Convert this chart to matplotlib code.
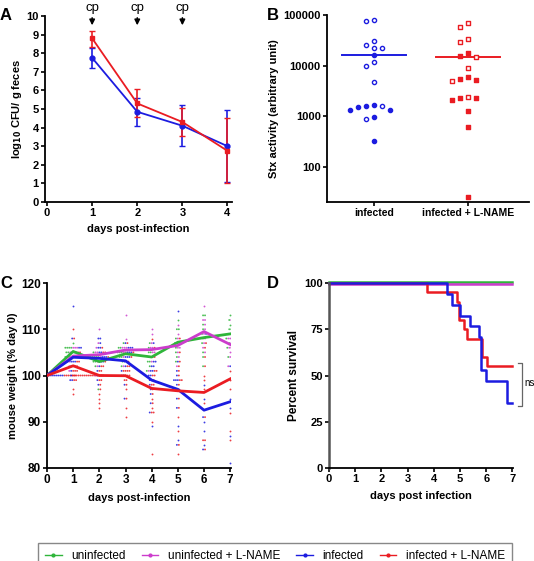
import numpy as np
import matplotlib
matplotlib.use("Agg")
import matplotlib.pyplot as plt
import matplotlib.transforms as mtransforms
from matplotlib.lines import Line2D

plt.rcParams['font.family'] = ['Liberation Sans', 'DejaVu Sans']
plt.rcParams['font.weight'] = 'bold'
plt.rcParams['axes.labelweight'] = 'bold'

GREEN = '#2fb53a'
MAGENTA = '#cc3ccc'
BLUE = '#1c1ce0'
RED = '#ea1c22'

# --- Panel A: fecal shedding -------------------------------------------------
a_days = [1, 2, 3, 4]
a_inf = [7.75, 4.85, 4.1, 3.0]
a_inf_lo = [7.2, 4.1, 3.0, 1.05]
a_inf_hi = [8.3, 5.6, 5.2, 4.95]
a_lname = [8.8, 5.3, 4.3, 2.75]
a_lname_lo = [8.35, 4.55, 3.55, 1.0]
a_lname_hi = [9.2, 6.05, 5.05, 4.5]
cp_days = [1, 2, 3]

# --- Panel B: Stx activity ---------------------------------------------------
b_groups = ['infected', 'infected + L-NAME']
b_inf_open = [77000, 80000, 26000, 31000, 22500, 22500, 12000, 10000, 4700, 1550, 870]
b_inf_filled = [16500, 1500, 1600, 1650, 1300, 1300, 970, 320]
b_lname_open = [68000, 58000, 34000, 29000, 14500, 9000, 5000, 2400]
b_lname_filled = [17500, 15500, 5500, 5200, 5900, 2300, 2100, 2250, 1250, 600, 25]

# --- Panel C: body weight ----------------------------------------------------
c_days = [0, 1, 2, 3, 4, 5, 6, 7]
w_uninf = [
    [100] * 10,
    [103, 104, 104, 105, 105, 106, 106, 107, 106, 106],
    [97, 102, 103, 103, 104, 104, 104, 104, 104, 105],
    [102, 103, 104, 104, 105, 105, 105, 106, 106, 107],
    [101, 102, 103, 103, 104, 104, 105, 105, 106, 107],
    [103, 104, 105, 106, 107, 107, 108, 110, 112, 110],
    [102, 104, 105, 107, 108, 109, 110, 111, 113, 113],
    [104, 106, 107, 108, 109, 110, 110, 111, 112, 113],
]
w_uninf_lname = [
    [100] * 10,
    [101, 102, 103, 104, 104, 105, 105, 106, 106, 106],
    [100, 102, 103, 103, 104, 105, 105, 106, 107, 110],
    [100, 102, 104, 105, 105, 106, 106, 106, 108, 113],
    [101, 103, 104, 105, 105, 106, 106, 107, 109, 110],
    [102, 104, 105, 106, 106, 107, 107, 108, 109, 111],
    [105, 106, 107, 108, 109, 110, 111, 112, 112, 115],
    [102, 104, 105, 106, 106, 107, 108, 108, 109, 112],
]
w_inf = [
    [100] * 17,
    [99, 99, 100, 101, 102, 103, 103, 103, 104, 104, 104, 105, 105, 106, 106, 108, 115],
    [98, 99, 100, 101, 102, 103, 103, 104, 104, 104, 105, 105, 106, 106, 107, 108, 108],
    [95, 98, 100, 101, 102, 103, 103, 104, 104, 104, 105, 105, 105, 106, 106, 106, 107],
    [89, 92, 94, 96, 97, 98, 99, 99, 100, 100, 101, 101, 102, 102, 103, 103, 107],
    [85, 86, 89, 93, 95, 97, 98, 99, 99, 99, 100, 101, 103, 114],
    [84, 85, 88, 90, 91, 95, 98, 109],
    [81, 87, 93, 95, 102, 108],
]
w_inf_lname = [
    [100] * 20,
    [96, 97, 99, 99, 100, 100, 101, 101, 101, 102, 102, 102, 103, 103, 104, 104, 105, 105, 108, 110],
    [93, 94, 95, 96, 97, 98, 99, 99, 100, 100, 100, 101, 101, 102, 102, 103, 104, 105, 106, 105],
    [91, 93, 95, 97, 98, 99, 99, 100, 100, 100, 101, 101, 101, 101, 102, 102, 103, 104, 105, 107],
    [83, 90, 92, 92, 93, 94, 95, 96, 97, 98, 98, 99, 100, 100, 101, 101, 104, 106, 108],
    [83, 85, 88, 91, 93, 95, 97, 98, 99, 99, 100, 101, 102, 103, 105, 108],
    [84, 86, 86, 91, 94, 97, 99, 100, 102, 104, 106, 107],
    [86, 88, 92, 97, 99, 101, 102, 104, 106, 108, 109],
]

# --- Panel D: survival -------------------------------------------------------
d_ctrl_t = [0, 7]
d_ctrl_s = [100, 100]
d_inf_t = [0, 4.52, 4.7, 4.98, 5.38, 5.73, 5.79, 5.98, 6.78, 7]
d_inf_s = [100, 94.1, 88.2, 82.4, 76.5, 70.6, 52.9, 47.1, 35.3, 35.3]
d_lname_t = [0, 3.73, 4.87, 4.96, 5.15, 5.28, 5.85, 6.02, 7]
d_lname_s = [100, 95, 90, 80, 75, 70, 60, 55, 55]

W, H = 534, 561
fig = plt.figure(figsize=(W / 100, H / 100), dpi=100)


def add_ax(l, t, r, b):
    return fig.add_axes([l / W, 1 - b / H, (r - l) / W, (b - t) / H])


def style(ax):
    for s in ['top', 'right']:
        ax.spines[s].set_visible(False)
    for s in ['left', 'bottom']:
        ax.spines[s].set_linewidth(1.3)
    ax.tick_params(labelsize=7.5, width=1.2, length=3, pad=1.5)


def letter(x, y, s):
    fig.text(x / W, 1 - y / H, s, fontsize=12, fontweight='bold', ha='center', va='center')


# A
axA = add_ax(45, 16, 232, 202)
style(axA)
for y, lo, hi, c, m in [(a_inf, a_inf_lo, a_inf_hi, BLUE, 'o'),
                        (a_lname, a_lname_lo, a_lname_hi, RED, 's')]:
    y = np.array(y)
    err = [y - np.array(lo), np.array(hi) - y]
    axA.errorbar(a_days, y, yerr=err, color=c, marker=m, markersize=3.5, lw=1.3,
                 capsize=2.5, elinewidth=1.2, clip_on=False)
axA.set_xlim(-0.045, 4.1)
axA.set_ylim(0, 10)
axA.set_xticks(range(5))
axA.set_yticks(range(11))
axA.tick_params(labelsize=8)
axA.set_xlabel('days post-infection', fontsize=8, labelpad=4)
axA.set_ylabel('log$_{10}$ CFU/ g feces', fontsize=8, labelpad=2)
for d in cp_days:
    axA.annotate('cp', xy=(d, 9.5), xytext=(d, 10.45), ha='center', va='center',
                 fontsize=9.5, fontweight='normal', annotation_clip=False,
                 arrowprops=dict(arrowstyle='-|>', color='k', lw=1.1, mutation_scale=8,
                                 shrinkA=1, shrinkB=0))
letter(6, 15, 'A')

# B
axB = add_ax(327, 15, 529, 202)
style(axB)
axB.set_yscale('log')
axB.set_ylim(20, 100000)
axB.set_xlim(-0.5, 1.65)
axB.set_yticks([100, 1000, 10000, 100000])
axB.set_yticklabels(['100', '1000', '10000', '100000'])
axB.yaxis.set_minor_locator(matplotlib.ticker.NullLocator())
axB.set_xticks([0, 1])
axB.set_xticklabels(b_groups, fontsize=7.5)
axB.tick_params(axis='y', labelsize=8)
axB.set_ylabel('Stx activity (arbitrary unit)', fontsize=8, labelpad=3)


def swarm(vals, step=0.085, px_x=94.0, px_y=50.7, dist=6.0):
    order = np.argsort(vals)[::-1]
    placed = []
    offs = np.zeros(len(vals))
    for i in order:
        ly = np.log10(vals[i])
        for k in [0, -1, 1, -2, 2, -3, 3]:
            x = k * step
            ok = all(np.hypot((x - px) * px_x, (ly - py) * px_y) >= dist for px, py in placed)
            if ok:
                break
        offs[i] = x
        placed.append((x, ly))
    return offs


for xi, op, fi, c, m in [(0, b_inf_open, b_inf_filled, BLUE, 'o'),
                         (1, b_lname_open, b_lname_filled, RED, 's')]:
    vals = np.array(op + fi, dtype=float)
    offs = swarm(vals)
    n_open = len(op)
    axB.scatter(xi + offs[:n_open], vals[:n_open], s=9, marker=m, facecolors='white',
                edgecolors=c, linewidths=1.0, zorder=3)
    axB.scatter(xi + offs[n_open:], vals[n_open:], s=9, marker=m, color=c, zorder=3)
    axB.plot([xi - 0.34, xi + 0.34], [vals.mean()] * 2, color=c, lw=1.4, zorder=2)
letter(273, 15, 'B')

# C
axC = add_ax(47, 283, 231, 468)
style(axC)
groups = [(w_uninf, GREEN), (w_uninf_lname, MAGENTA), (w_inf, BLUE), (w_inf_lname, RED)]
for di, d in enumerate(c_days):
    pts = []
    for wl, c in groups:
        pts += [(v, c) for v in wl[di]]
    for v in sorted(set(p[0] for p in pts)):
        row = [p[1] for p in pts if p[0] == v]
        k = len(row)
        xs = d + (np.arange(k) - (k - 1) / 2) * 0.075
        axC.scatter(xs, [v] * k, s=1.8, c=row, linewidths=0, alpha=0.85, zorder=2)
for wl, c in groups:
    axC.plot(c_days, [np.mean(w) for w in wl], color=c, lw=2, zorder=3)
axC.set_xlim(0, 7.03)
axC.set_ylim(80, 120)
axC.set_xticks(range(8))
axC.set_yticks([80, 90, 100, 110, 120])
axC.tick_params(labelsize=8.5)
axC.set_xlabel('days post-infection', fontsize=8, labelpad=5)
axC.set_ylabel('mouse weight (% day 0)', fontsize=8, labelpad=2)
letter(6, 284, 'C')

# D
axD = add_ax(329, 283, 513, 468)
style(axD)
axD.spines['left'].set_color('#555555')
axD.spines['left'].set_linewidth(1.8)
up = mtransforms.offset_copy(axD.transData, fig=fig, x=0, y=0.8, units='points')
dn = mtransforms.offset_copy(axD.transData, fig=fig, x=0, y=-0.8, units='points')
axD.step(d_ctrl_t, d_ctrl_s, where='post', color=GREEN, lw=1.8, transform=up, clip_on=False)
axD.step(d_ctrl_t, d_ctrl_s, where='post', color=MAGENTA, lw=1.8, transform=dn, clip_on=False)
axD.step(d_lname_t, d_lname_s, where='post', color=RED, lw=1.8, clip_on=False)
axD.step(d_inf_t, d_inf_s, where='post', color=BLUE, lw=1.8, clip_on=False)
axD.set_xlim(0, 7.02)
axD.set_ylim(0, 100)
axD.set_xticks(range(8))
axD.set_yticks([0, 25, 50, 75, 100])
axD.tick_params(labelsize=8)
axD.set_xlabel('days post infection', fontsize=8, labelpad=5)
axD.set_ylabel('Percent survival', fontsize=8.5, labelpad=3)
# ns bracket
axD.plot([7.22, 7.35, 7.35, 7.22], [56.8, 56.8, 33.5, 33.5], color='#666666', lw=0.9,
         clip_on=False)
fig.text(524 / W, 1 - 383 / H, 'ns', fontsize=7, fontweight='normal', va='center')
letter(273, 283, 'D')

# legend
handles = [Line2D([], [], color=c, marker='.', markersize=4, lw=1) for c in
           [GREEN, MAGENTA, BLUE, RED]]
labels = ['uninfected', 'uninfected + L-NAME', 'infected', 'infected + L-NAME']
leg = fig.legend(handles, labels, loc='upper left', ncol=4, mode='expand',
                 bbox_to_anchor=(32 / W, 0, 486 / W, 1 - 537 / H),
                 prop={'size': 8.5, 'weight': 'normal'}, fancybox=False,
                 edgecolor='#888888', handlelength=1.4, handletextpad=0.8,
                 borderpad=0.6, columnspacing=1.0, framealpha=1)
leg.get_frame().set_linewidth(1.0)

fig.savefig('out.png', dpi=100)
